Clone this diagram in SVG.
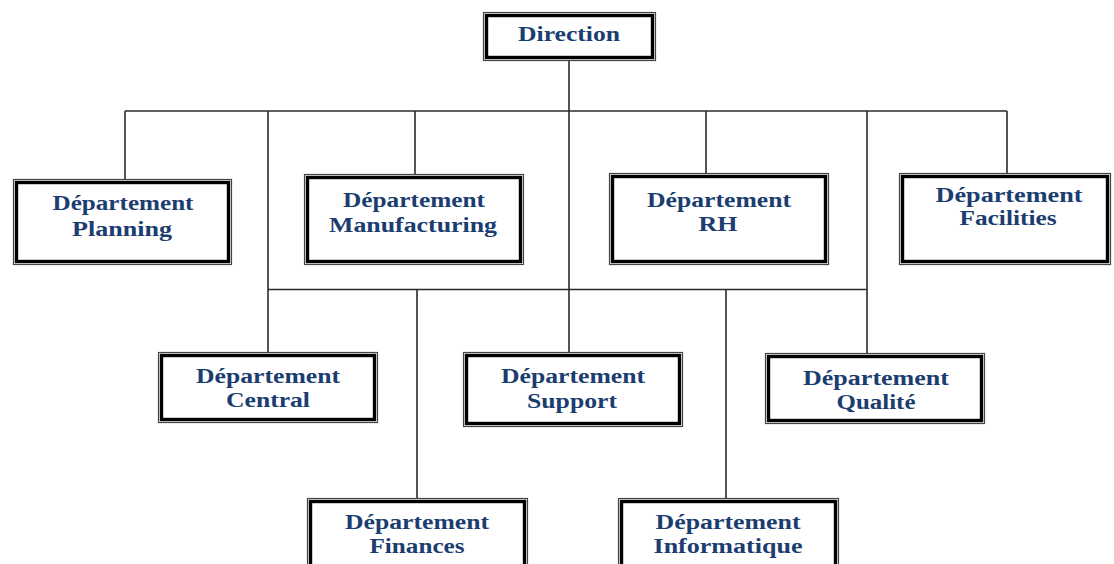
<svg xmlns="http://www.w3.org/2000/svg" width="1114" height="564" viewBox="0 0 1114 564">
  <style>
    .frame-out { fill: #ffffff; stroke: #444444; stroke-width: 1.2; }
    .frame-in { fill: none; stroke: #000000; stroke-width: 3.4; }
    .lbl { font-family: "Liberation Serif", "Times New Roman", serif; font-weight: bold; font-size: 20px; fill: #1b3d70; text-anchor: middle; }
    .wire { fill: none; stroke: #2a2a2a; stroke-width: 1.6; }
  </style>
  <rect width="1114" height="564" fill="#ffffff"/>

  <!-- connectors -->
  <g id="connectors" class="wire">
    <path d="M569 61 V111"/>
    <path d="M125 111 H1007"/>
    <path d="M125 111 V179"/>
    <path d="M415 111 V174"/>
    <path d="M706 111 V173"/>
    <path d="M1007 111 V173"/>
    <path d="M268 111 V352"/>
    <path d="M569 111 V352"/>
    <path d="M867 111 V353"/>
    <path d="M268 289.5 H867"/>
    <path d="M417 289.5 V498"/>
    <path d="M726 289.5 V498"/>
  </g>

  <g id="direction">
    <rect class="frame-out" x="483.5" y="12.5" width="172" height="48"/>
    <rect class="frame-in" x="486.5" y="15.5" width="166" height="42"/>
    <text class="lbl" x="569" y="41" font-size="21" textLength="102" lengthAdjust="spacingAndGlyphs">Direction</text>
  </g>

  <g id="planning">
    <rect class="frame-out" x="13.5" y="179.5" width="218" height="85"/>
    <rect class="frame-in" x="16.5" y="182.5" width="212" height="79"/>
    <text class="lbl" x="123" y="210" textLength="141" lengthAdjust="spacingAndGlyphs">Département</text>
    <text class="lbl" x="122" y="236" textLength="100" lengthAdjust="spacingAndGlyphs">Planning</text>
  </g>

  <g id="manufacturing">
    <rect class="frame-out" x="304.5" y="174.5" width="219" height="90"/>
    <rect class="frame-in" x="307.5" y="177.5" width="213" height="84"/>
    <text class="lbl" x="414" y="207" textLength="142" lengthAdjust="spacingAndGlyphs">Département</text>
    <text class="lbl" x="413" y="232" textLength="168" lengthAdjust="spacingAndGlyphs">Manufacturing</text>
  </g>

  <g id="rh">
    <rect class="frame-out" x="609.5" y="173.5" width="219" height="91"/>
    <rect class="frame-in" x="612.5" y="176.5" width="213" height="85"/>
    <text class="lbl" x="719" y="207" textLength="144" lengthAdjust="spacingAndGlyphs">Département</text>
    <text class="lbl" x="718" y="231" textLength="39" lengthAdjust="spacingAndGlyphs">RH</text>
  </g>

  <g id="facilities">
    <rect class="frame-out" x="899.5" y="173.5" width="211" height="91"/>
    <rect class="frame-in" x="902.5" y="176.5" width="205" height="85"/>
    <text class="lbl" x="1009" y="202" textLength="147" lengthAdjust="spacingAndGlyphs">Département</text>
    <text class="lbl" x="1008" y="225" textLength="97" lengthAdjust="spacingAndGlyphs">Facilities</text>
  </g>

  <g id="central">
    <rect class="frame-out" x="158.5" y="352.5" width="219" height="70"/>
    <rect class="frame-in" x="161.5" y="355.5" width="213" height="64"/>
    <text class="lbl" x="268" y="383" textLength="144" lengthAdjust="spacingAndGlyphs">Département</text>
    <text class="lbl" x="268" y="407" textLength="84" lengthAdjust="spacingAndGlyphs">Central</text>
  </g>

  <g id="support">
    <rect class="frame-out" x="463.5" y="352.5" width="219" height="74"/>
    <rect class="frame-in" x="466.5" y="355.5" width="213" height="68"/>
    <text class="lbl" x="573" y="383" textLength="144" lengthAdjust="spacingAndGlyphs">Département</text>
    <text class="lbl" x="572" y="408" textLength="90" lengthAdjust="spacingAndGlyphs">Support</text>
  </g>

  <g id="qualite">
    <rect class="frame-out" x="765.5" y="353.5" width="219" height="70"/>
    <rect class="frame-in" x="768.5" y="356.5" width="213" height="64"/>
    <text class="lbl" x="876" y="385" textLength="146" lengthAdjust="spacingAndGlyphs">Département</text>
    <text class="lbl" x="876" y="409" textLength="79" lengthAdjust="spacingAndGlyphs">Qualité</text>
  </g>

  <g id="finances">
    <rect class="frame-out" x="307.5" y="498.5" width="220" height="74"/>
    <rect class="frame-in" x="310.5" y="501.5" width="214" height="68"/>
    <text class="lbl" x="417" y="529" textLength="144" lengthAdjust="spacingAndGlyphs">Département</text>
    <text class="lbl" x="417" y="553" textLength="95" lengthAdjust="spacingAndGlyphs">Finances</text>
  </g>

  <g id="informatique">
    <rect class="frame-out" x="618.5" y="498.5" width="220" height="74"/>
    <rect class="frame-in" x="621.5" y="501.5" width="214" height="68"/>
    <text class="lbl" x="728" y="529" textLength="145" lengthAdjust="spacingAndGlyphs">Département</text>
    <text class="lbl" x="728" y="553" textLength="149" lengthAdjust="spacingAndGlyphs">Informatique</text>
  </g>
</svg>
